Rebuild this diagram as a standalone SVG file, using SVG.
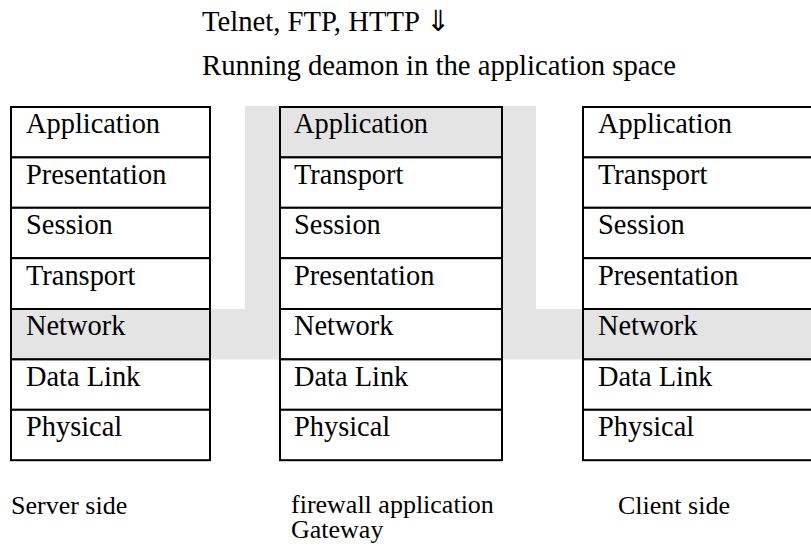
<svg xmlns="http://www.w3.org/2000/svg" width="811" height="551" viewBox="0 0 811 551">
<style>
text{font-family:"Liberation Serif","Times New Roman",serif;font-size:28.4px;fill:#000}
.top{font-size:28.7px}
.cap{font-size:26px}
.cell{fill:#fff;stroke:#000;stroke-width:2}
.hl{fill:#e4e4e4;stroke:#000;stroke-width:2}
.band{fill:#e4e4e4;stroke:none}
</style>
<rect width="811" height="551" fill="#fff"/>
<g id="gray-path">
<rect class="band" x="245" y="106" width="291" height="203"/>
<rect class="band" x="210" y="309" width="605" height="50.5"/>
</g>
<g id="server-stack">
<rect class="cell" x="11" y="107" width="199" height="50.4"/><text x="26" y="133">Application</text>
<rect class="cell" x="11" y="157.4" width="199" height="50.4"/><text x="26" y="183.5">Presentation</text>
<rect class="cell" x="11" y="207.8" width="199" height="50.4"/><text x="26" y="234">Session</text>
<rect class="cell" x="11" y="258.2" width="199" height="50.8"/><text x="26" y="284.5">Transport</text>
<rect class="hl" x="11" y="309" width="199" height="50.4"/><text x="26" y="335">Network</text>
<rect class="cell" x="11" y="359.4" width="199" height="50.4"/><text x="26" y="385.5">Data Link</text>
<rect class="cell" x="11" y="409.8" width="199" height="50.4"/><text x="26" y="436">Physical</text>
</g>
<g id="gateway-stack">
<rect class="hl" x="280" y="107" width="222" height="50.4"/><text x="294" y="133">Application</text>
<rect class="cell" x="280" y="157.4" width="222" height="50.4"/><text x="294" y="183.5">Transport</text>
<rect class="cell" x="280" y="207.8" width="222" height="50.4"/><text x="294" y="234">Session</text>
<rect class="cell" x="280" y="258.2" width="222" height="50.8"/><text x="294" y="284.5">Presentation</text>
<rect class="cell" x="280" y="309" width="222" height="50.4"/><text x="294" y="335">Network</text>
<rect class="cell" x="280" y="359.4" width="222" height="50.4"/><text x="294" y="385.5">Data Link</text>
<rect class="cell" x="280" y="409.8" width="222" height="50.4"/><text x="294" y="436">Physical</text>
</g>
<g id="client-stack">
<rect class="cell" x="583" y="107" width="240" height="50.4"/><text x="598" y="133">Application</text>
<rect class="cell" x="583" y="157.4" width="240" height="50.4"/><text x="598" y="183.5">Transport</text>
<rect class="cell" x="583" y="207.8" width="240" height="50.4"/><text x="598" y="234">Session</text>
<rect class="cell" x="583" y="258.2" width="240" height="50.8"/><text x="598" y="284.5">Presentation</text>
<rect class="hl" x="583" y="309" width="240" height="50.4"/><text x="598" y="335">Network</text>
<rect class="cell" x="583" y="359.4" width="240" height="50.4"/><text x="598" y="385.5">Data Link</text>
<rect class="cell" x="583" y="409.8" width="240" height="50.4"/><text x="598" y="436">Physical</text>
</g>
<g id="captions">
<text class="top" x="202" y="31">Telnet, FTP, HTTP ⇓</text>
<text class="top" x="202" y="75">Running deamon in the application space</text>
<text class="cap" x="11" y="514">Server side</text>
<text class="cap" x="291" y="513">firewall application</text>
<text class="cap" x="291" y="538">Gateway</text>
<text class="cap" x="618" y="514">Client side</text>
</g>
<g id="connectors"/>
</svg>
